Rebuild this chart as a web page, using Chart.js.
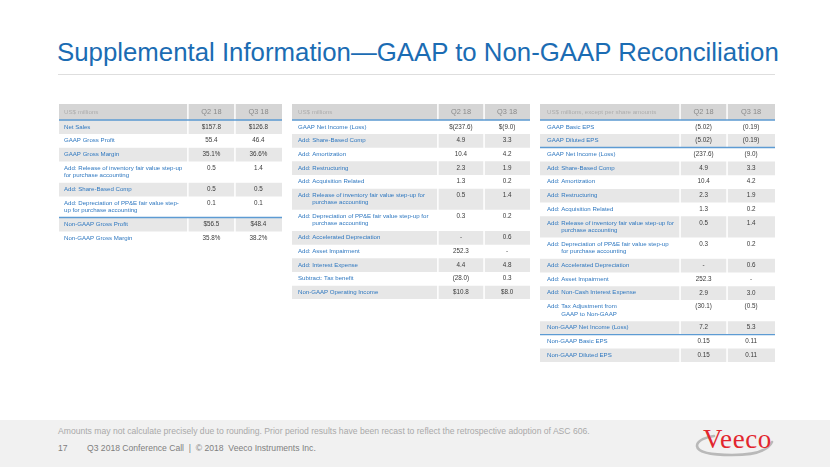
<!DOCTYPE html>
<html>
<head>
<meta charset="utf-8">
<script src="https://cdn.jsdelivr.net/npm/chart.js@4.4.1/dist/chart.umd.min.js"></script>
<style>
  html, body { margin: 0; padding: 0; background: #ffffff; }
  body { width: 830px; height: 467px; position: relative; overflow: hidden; font-family: "Liberation Sans", Arial, sans-serif; }
  #title { position: absolute; left: 57px; top: 38px; font-size: 25.8px; color: #1b6cb3; white-space: nowrap; line-height: normal; }
  #rule { position: absolute; left: 58px; top: 74px; width: 717px; height: 1px; background: #dedede; }
  .tbl { position: absolute; top: 104px; }
  #footer { position: absolute; left: 0; top: 420px; width: 830px; height: 47px; background: #f1f1f1; }
  #note { position: absolute; left: 58px; top: 426px; font-size: 8.6px; color: #a9a9a9; white-space: nowrap; }
  #page { position: absolute; left: 58px; top: 443px; font-size: 8.6px; color: #7f7f7f; white-space: nowrap; }
  #conf { position: absolute; left: 87px; top: 443px; font-size: 8.6px; color: #7f7f7f; white-space: nowrap; }
  #logo { position: absolute; left: 694px; top: 424px; }
</style>
</head>
<body>
<div id="title">Supplemental Information—GAAP to Non-GAAP Reconciliation</div>
<div id="rule"></div>
<canvas id="t1" class="tbl" style="left:59px"></canvas>
<canvas id="t2" class="tbl" style="left:292px"></canvas>
<canvas id="t3" class="tbl" style="left:540px"></canvas>
<div id="footer"></div>
<div id="note">Amounts may not calculate precisely due to rounding. Prior period results have been recast to reflect the retrospective adoption of ASC 606.</div>
<div id="page">17</div>
<div id="conf">Q3 2018 Conference Call&nbsp;&nbsp;|&nbsp;&nbsp;© 2018&nbsp;&nbsp;Veeco Instruments Inc.</div>
<svg id="logo" width="90" height="40" viewBox="0 0 90 40">
  <path d="M78 18 Q72 31 38 31 Q4 31 3 22 Q3 15 20 12" fill="none" stroke="#b9b9b9" stroke-width="2.6" stroke-linecap="round"/>
  <text x="9" y="24" font-family="Liberation Serif, Times New Roman, serif" font-size="27" fill="#e2262e" letter-spacing="0.6">Veeco</text>
</svg>

<script>
// ---------- DATA ----------
const periods = ["Q2 18", "Q3 18"];

const t1Header = "US$ millions";
const t1Labels = [
  "Net Sales",
  "GAAP Gross Profit",
  "GAAP Gross Margin",
  "Add: Release of inventory fair value step-up\nfor purchase accounting",
  "Add: Share-Based Comp",
  "Add: Depreciation of PP&E fair value step-\nup for purchase accounting",
  "Non-GAAP Gross Profit",
  "Non-GAAP Gross Margin"
];
const t1Q2 = [157.8, 55.4, 35.1, 0.5, 0.5, 0.1, 56.5, 35.8];
const t1Q3 = [126.8, 46.4, 36.6, 1.4, 0.5, 0.1, 48.4, 38.2];
const t1Kind = ["$", "", "%", "", "", "", "$", "%"];
const t1RulesAbove = [6];

const t2Header = "US$ millions";
const t2Labels = [
  "GAAP Net Income (Loss)",
  "Add: Share-Based Comp",
  "Add: Amortization",
  "Add: Restructuring",
  "Add: Acquisition Related",
  "Add: Release of inventory fair value step-up for\npurchase accounting",
  "Add: Depreciation of PP&E fair value step-up for\npurchase accounting",
  "Add: Accelerated Depreciation",
  "Add: Asset Impairment",
  "Add: Interest Expense",
  "Subtract: Tax benefit",
  "Non-GAAP Operating Income"
];
const t2Q2 = [-237.6, 4.9, 10.4, 2.3, 1.3, 0.5, 0.3, null, 252.3, 4.4, -28.0, 10.8];
const t2Q3 = [-9.0, 3.3, 4.2, 1.9, 0.2, 1.4, 0.2, 0.6, null, 4.8, 0.3, 8.0];
const t2Kind = ["$", "", "", "", "", "", "", "", "", "", "", "$"];
const t2RulesAbove = [];

const t3Header = "US$ millions, except per share amounts";
const t3Labels = [
  "GAAP Basic EPS",
  "GAAP Diluted EPS",
  "GAAP Net Income (Loss)",
  "Add: Share-Based Comp",
  "Add: Amortization",
  "Add: Restructuring",
  "Add: Acquisition Related",
  "Add: Release of inventory fair value step-up for\npurchase accounting",
  "Add: Depreciation of PP&E fair value step-up\nfor purchase accounting",
  "Add: Accelerated Depreciation",
  "Add: Asset Impairment",
  "Add: Non-Cash Interest Expense",
  "Add: Tax Adjustment from\nGAAP to Non-GAAP",
  "Non-GAAP Net Income (Loss)",
  "Non-GAAP Basic EPS",
  "Non-GAAP Diluted EPS"
];
const t3Q2 = [-5.02, -5.02, -237.6, 4.9, 10.4, 2.3, 1.3, 0.5, 0.3, null, 252.3, 2.9, -30.1, 7.2, 0.15, 0.15];
const t3Q3 = [-0.19, -0.19, -9.0, 3.3, 4.2, 1.9, 0.2, 1.4, 0.2, 0.6, null, 3.0, -0.5, 5.3, 0.11, 0.11];
const t3Kind = ["eps", "eps", "", "", "", "", "", "", "", "", "", "", "", "", "eps", "eps"];
const t3RulesAbove = [2, 14];

// ---------- RENDERING ----------
const FONT = '"Liberation Sans", Arial, sans-serif';
const UNIT_PX = 13.7;
const HEADER_UNITS = 1.17;
const LINE_UNITS = [0, 1, 1.55];

function fmt(v, kind) {
  if (v === null || v === undefined) return "-";
  const dec = kind === "eps" ? 2 : 1;
  const abs = Math.abs(v).toFixed(dec);
  let s = v < 0 ? "(" + abs + ")" : abs;
  if (kind === "$") s = "$" + s;
  if (kind === "%") s = s + "%";
  return s;
}

function buildTable(id, cfg) {
  const rows = [{ header: true, lines: [cfg.header] }];
  cfg.labels.forEach((l, i) => rows.push({ header: false, lines: l.split("\n"), q2: fmt(cfg.q2[i], cfg.kind[i]), q3: fmt(cfg.q3[i], cfg.kind[i]), idx: i }));
  let acc = 0;
  rows.forEach(r => {
    const h = r.header ? HEADER_UNITS : LINE_UNITS[r.lines.length];
    r.range = [acc, acc + h];
    acc += h;
  });
  const total = acc;
  const canvas = document.getElementById(id);
  canvas.width = cfg.width;
  canvas.height = Math.round(total * UNIT_PX);
  canvas.style.width = cfg.width + "px";
  canvas.style.height = canvas.height + "px";

  const datasets = rows.map(r => {
    let color;
    if (r.header) color = "#d5d5d5";
    else {
      const shaded = ((r.idx + (cfg.firstShaded ? 0 : 1)) % 2) === 0;
      color = shaded ? "#e7e7e7" : "#ffffff";
    }
    return { data: [r.range], backgroundColor: color, borderWidth: 0, borderSkipped: false };
  });

  const tablePlugin = {
    id: "tableText",
    afterDatasetsDraw(chart) {
      const ctx = chart.ctx;
      const area = chart.chartArea;
      const W = area.right - area.left;
      const xSep1 = area.left + W * cfg.sep[0];
      const xSep2 = area.left + W * cfg.sep[1];
      const cQ2 = (xSep1 + xSep2) / 2;
      const cQ3 = (xSep2 + area.right) / 2;
      ctx.save();
      ctx.strokeStyle = "#ffffff";
      ctx.lineWidth = 1.5;
      [xSep1, xSep2].forEach(x => {
        ctx.beginPath(); ctx.moveTo(x, area.top); ctx.lineTo(x, area.bottom); ctx.stroke();
      });
      ctx.textBaseline = "middle";
      rows.forEach((r, k) => {
        const el = chart.getDatasetMeta(k).data[0];
        const top = Math.min(el.y, el.base);
        const bot = Math.max(el.y, el.base);
        const mid = (top + bot) / 2;
        if (r.header) {
          ctx.font = "6.2px " + FONT;
          ctx.fillStyle = "#adadad";
          ctx.textAlign = "left";
          ctx.fillText(r.lines[0], area.left + cfg.pad, mid);
          ctx.font = "7.4px " + FONT;
          ctx.fillStyle = "#8a8a8a";
          ctx.textAlign = "center";
          ctx.fillText(periods[0], cQ2, mid);
          ctx.fillText(periods[1], cQ3, mid);
          return;
        }
        ctx.font = "6.1px " + FONT;
        ctx.fillStyle = "#2f78c0";
        ctx.textAlign = "left";
        const lh = 7.2;
        const n = r.lines.length;
        const firstY = mid - (n - 1) * lh / 2;
        const indent = cfg.hanging ? ctx.measureText("Add: ").width : 0;
        r.lines.forEach((line, j) => {
          ctx.fillText(line, area.left + cfg.pad + (j > 0 ? indent : 0), firstY + j * lh);
        });
        ctx.font = "6.3px " + FONT;
        ctx.fillStyle = "#3a3a3a";
        ctx.textAlign = "center";
        ctx.fillText(r.q2, cQ2, firstY);
        ctx.fillText(r.q3, cQ3, firstY);
      });
      // blue rules: below header, and above selected rows
      ctx.strokeStyle = "#5d9bd3";
      ctx.lineWidth = 1.4;
      const ruleRows = [1].concat(cfg.rules.map(i => i + 1));
      ruleRows.forEach(k => {
        const el = chart.getDatasetMeta(k).data[0];
        const y = Math.min(el.y, el.base);
        ctx.beginPath(); ctx.moveTo(area.left, y); ctx.lineTo(area.right, y); ctx.stroke();
      });
      ctx.restore();
    }
  };

  new Chart(canvas, {
    type: "bar",
    data: { labels: [""], datasets },
    options: {
      responsive: false,
      maintainAspectRatio: false,
      devicePixelRatio: 1,
      animation: false,
      indexAxis: "x",
      layout: { padding: 0 },
      datasets: { bar: { grouped: false, barPercentage: 1, categoryPercentage: 1 } },
      scales: {
        x: { display: false, offset: true },
        y: { display: false, reverse: true, min: 0, max: total }
      },
      plugins: { legend: { display: false }, tooltip: { enabled: false } }
    },
    plugins: [tablePlugin]
  });
}

buildTable("t1", { header: t1Header, labels: t1Labels, q2: t1Q2, q3: t1Q3, kind: t1Kind, rules: t1RulesAbove,
  width: 223, sep: [0.578, 0.789], pad: 5, hanging: false, firstShaded: true });
buildTable("t2", { header: t2Header, labels: t2Labels, q2: t2Q2, q3: t2Q3, kind: t2Kind, rules: t2RulesAbove,
  width: 238, sep: [0.613, 0.807], pad: 6, hanging: true, firstShaded: false });
buildTable("t3", { header: t3Header, labels: t3Labels, q2: t3Q2, q3: t3Q3, kind: t3Kind, rules: t3RulesAbove,
  width: 235, sep: [0.596, 0.796], pad: 7, hanging: true, firstShaded: false });
</script>
</body>
</html>
